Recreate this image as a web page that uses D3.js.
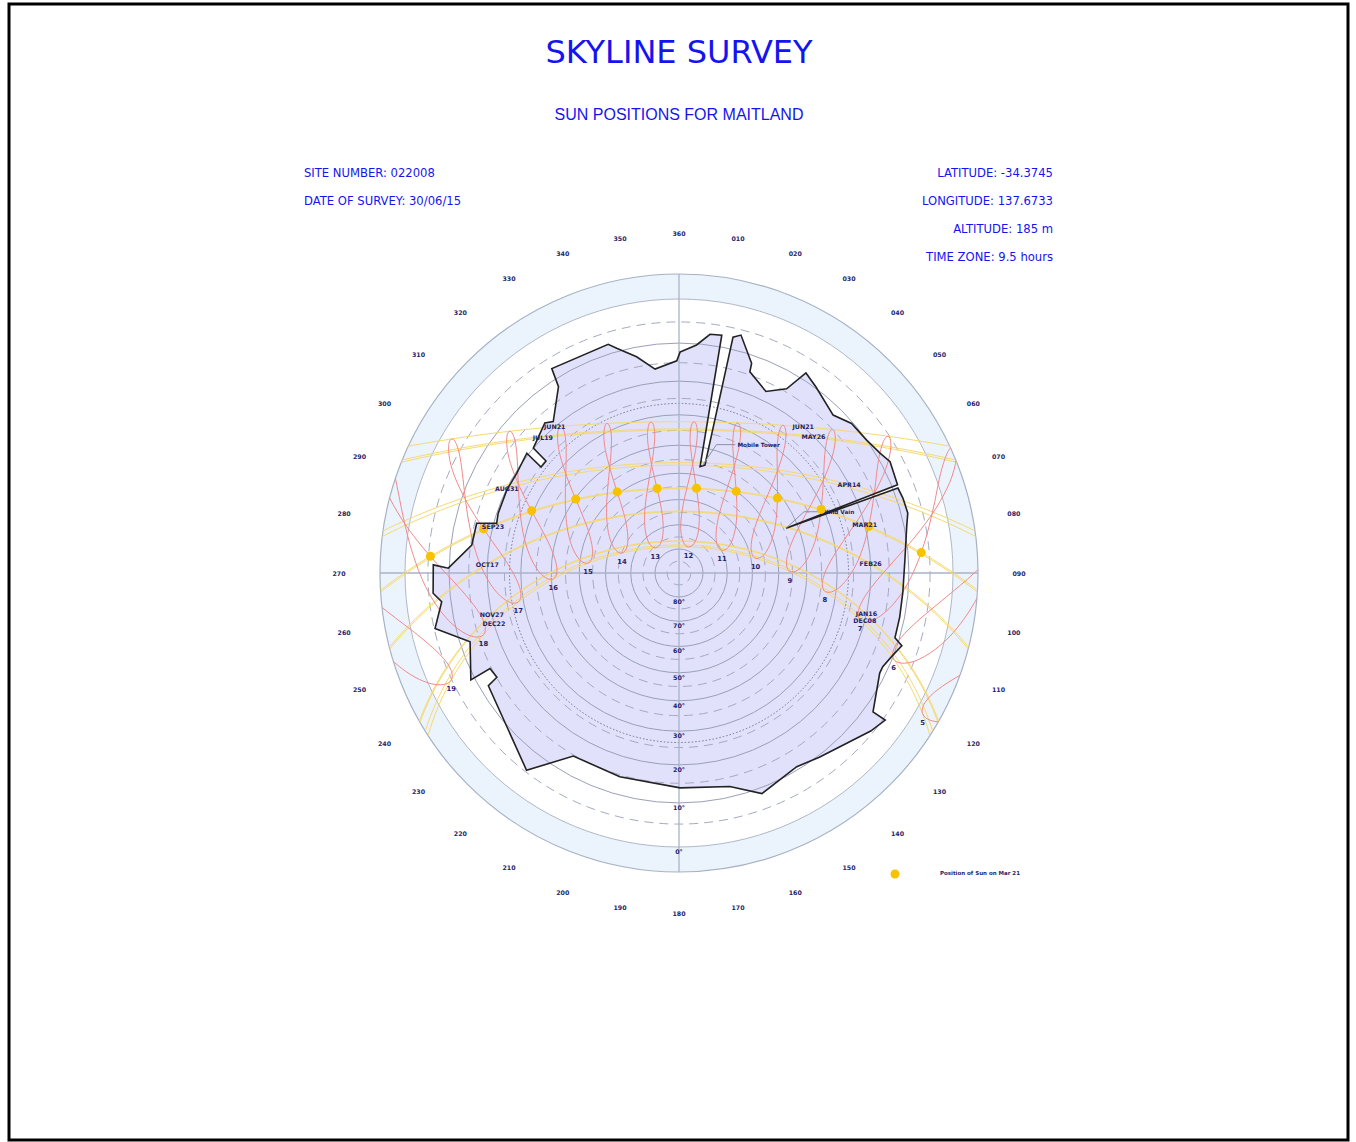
<!DOCTYPE html>
<html>
<head>
<meta charset="utf-8">
<title>Skyline Survey</title>
<script src="https://cdn.jsdelivr.net/npm/d3@7"></script>
<style>
body{margin:0;background:#fff;}
svg{display:block;font-family:"DejaVu Sans",Verdana,sans-serif;}
</style>
</head>
<body>
<svg id="chart" width="1356" height="1142"></svg>
<script>
// site details
var siteInfoLeft = ["SITE NUMBER: 022008", "DATE OF SURVEY: 30/06/15"];
var siteInfoRight = ["LATITUDE: -34.3745", "LONGITUDE: 137.6733", "ALTITUDE: 185 m", "TIME ZONE: 9.5 hours"];
var siteLat = -34.3745, siteLon = 137.6733, timeZone = 9.5;

// skyline (azimuth deg, elevation deg), clockwise from north
var skylineAz  = [0.3, 4.4, 7.4, 10.2, 11.2, 13.5, 12.9, 14.6, 19.1, 19.4, 25.6, 30.3, 32.4, 36.3, 44.3, 49.1, 54.7, 59.2, 62.2, 68.0, 67.3, 68.8, 71.5, 75.3, 78.5, 86.7, 94.9, 101.3, 106.7, 108.1, 111.0, 114.7, 116.5, 125.6, 125.5, 129.5, 142.7, 148.7, 159.4, 166.6, 179.7, 196.2, 210.0, 217.7, 239.4, 240.2, 243.2, 242.8, 251.8, 257.2, 263.1, 265.3, 271.9, 271.2, 277.7, 283.8, 285.3, 288.3, 295.7, 301.6, 308.2, 307.5, 310.1, 310.6, 318.2, 320.3, 327.1, 328.1, 342.8, 344.5, 348.9, 353.3, 359.4];
var skylineAlt = [12.2, 10.3, 7.4, 7.2, 46.8, 45.9, 7.1, 6.2, 12.0, 14.2, 17.4, 14.2, 8.3, 9.7, 12.3, 10.4, 10.0, 9.0, 7.9, 8.6, 44.1, 8.8, 8.5, 8.4, 9.4, 10.9, 11.3, 11.2, 11.1, 8.9, 10.2, 11.4, 11.4, 7.9, 4.5, 5.6, 9.6, 10.8, 8.6, 12.6, 13.8, 14.5, 14.7, 5.4, 12.1, 15.1, 14.6, 9.0, 12.5, 5.2, 7.8, 6.0, 6.2, 9.8, 15.3, 15.5, 20.8, 20.4, 20.2, 20.4, 19.5, 25.2, 25.2, 20.0, 17.4, 18.6, 12.0, 7.4, 7.7, 9.2, 12.4, 16.3, 14.5];

// named obstructions
var obstacleNames = ["Mobile Tower", "Wind Vain"];
var obstacleAz = [12.3, 67.3];
var obstacleAlt = [46.3, 44.1];

// solar table: declination (deg) and equation of time (min), 1st/11th/21st of each month
var tableDec = [-23.0, -21.8, -20.0, -17.2, -14.3, -10.8, -7.8, -4.0, 0.0, 4.4, 8.2, 11.8, 15.0, 17.8, 20.1, 22.0, 23.1, 23.44, 23.1, 22.0, 20.4, 17.9, 15.3, 12.2, 8.3, 4.6, 0.7, -3.1, -6.9, -10.6, -14.4, -17.4, -20.0, -21.8, -23.0, -23.44];
var tableEot = [-3.4, -7.8, -11.2, -13.5, -14.2, -13.8, -12.5, -10.2, -7.3, -4.0, -1.2, 1.1, 2.9, 3.7, 3.4, 2.2, 0.4, -1.7, -3.8, -5.5, -6.4, -6.3, -5.2, -3.2, -0.1, 3.2, 6.7, 10.2, 13.1, 15.3, 16.4, 16.0, 14.1, 11.0, 6.8, 2.0];

// clock hours of the analemmas
var hours = [5, 6, 7, 8, 9, 10, 11, 12, 13, 14, 15, 16, 17, 18, 19];

// day paths, labelled on the afternoon (left) and morning (right) side
var leftDates = ["JUN21", "JUL19", "AUG31", "SEP23", "OCT17", "NOV27", "DEC22"];
var leftDecs = [23.44, 20.7, 8.6, -0.2, -9.2, -21.2, -23.44];
var rightDates = ["JUN21", "MAY26", "APR14", "MAR21", "FEB26", "JAN16", "DEC08"];
var rightDecs = [23.44, 21.1, 9.5, 0.1, -8.9, -21.0, -22.7];

// sun positions on Mar 21
var markLabel = "Position of Sun on Mar 21";
var markDec = 0.1, markEot = -7.3;
var markHours = [7, 8, 9, 10, 11, 12, 13, 14, 15, 16, 17, 18];

// grid
var altSolid = [0, 10, 20, 30, 40, 50, 60, 70, 80];
var altDashed = [5, 15, 25, 35, 45, 55, 65, 75, 85];
var altDotted = [26.5];
var altLabels = [0, 10, 20, 30, 40, 50, 60, 70, 80];
var azTicks = [10, 20, 30, 40, 50, 60, 70, 80, 90, 100, 110, 120, 130, 140, 150, 160, 170, 180, 190, 200, 210, 220, 230, 240, 250, 260, 270, 280, 290, 300, 310, 320, 330, 340, 350, 360];

var W = 1356, H = 1142, cx = 679, cy = 573, R0 = 274;
var navy = "#1f1f6b", blue = "#1414f0";

var svg = d3.select("#chart");

// horizon frame: lon = 180 - azimuth, lat = elevation
var horizon = d3.geoStereographic().scale(R0).translate([cx, cy]).rotate([0, -90]).clipAngle(95);
// equatorial frame: lon = -hour angle, lat = declination
var sky = d3.geoStereographic().scale(R0).translate([cx, cy]).rotate([0, -siteLat]).clipAngle(95);
var skyPath = d3.geoPath(sky);

function hz(az, alt){ return horizon([180 - az, alt]); }
function rAlt(alt){
    var p = hz(0, alt);
    return Math.hypot(p[0] - cx, p[1] - cy);
}
function sunXY(hour, dec, eot){
    var solar = hour + (siteLon - 15 * timeZone) / 15 + eot / 60;
    var ha = 15 * (solar - 12);
    return sky([-ha, dec]);
}
var rOuter = rAlt(-5), rHorizon = rAlt(0);

// frame
svg.append("rect").attr("x", 9).attr("y", 4).attr("width", 1339).attr("height", 1136)
    .attr("fill", "none").attr("stroke", "#000").attr("stroke-width", 3);

// titles
svg.append("text").attr("x", cx).attr("y", 63).attr("text-anchor", "middle")
    .attr("fill", blue).style("font-size", "32px").text("SKYLINE SURVEY");
svg.append("text").attr("x", cx).attr("y", 120).attr("text-anchor", "middle")
    .attr("fill", blue).style("font-family", "'Liberation Sans',Arial,sans-serif").style("font-size", "16px")
    .text("SUN POSITIONS FOR MAITLAND");
svg.selectAll("text.infoL").data(siteInfoLeft).enter().append("text")
    .classed("infoL", true)
    .attr("x", 304).attr("y", function(d, i){ return 177 + i * 28; })
    .attr("fill", blue).style("font-size", "11.6px").text(function(d){ return d; });
svg.selectAll("text.infoR").data(siteInfoRight).enter().append("text")
    .classed("infoR", true)
    .attr("x", 1053).attr("y", function(d, i){ return 177 + i * 28; })
    .attr("text-anchor", "end")
    .attr("fill", blue).style("font-size", "11.6px").text(function(d){ return d; });

svg.append("defs").append("clipPath").attr("id", "dome")
    .append("circle").attr("cx", cx).attr("cy", cy).attr("r", rOuter);

var plot = svg.append("g");

// outer band (-5 to 0 deg)
plot.append("circle").attr("cx", cx).attr("cy", cy).attr("r", rOuter)
    .attr("fill", "#ebf4fd").attr("stroke", "#a6b2c4").attr("stroke-width", 1.2);
plot.append("circle").attr("cx", cx).attr("cy", cy).attr("r", rHorizon)
    .attr("fill", "#fff").attr("stroke", "#b0b8c8").attr("stroke-width", 1);

// skyline fill
var skyline = skylineAz.map(function(a, i){ return hz(a, skylineAlt[i]); });
var skyLine = d3.line().curve(d3.curveLinearClosed);
plot.append("path").attr("d", skyLine(skyline)).attr("fill", "#e1e1fb").attr("stroke", "none");

// altitude rings
plot.selectAll("circle.solid").data(altSolid.slice(1)).enter().append("circle")
    .classed("solid", true)
    .attr("cx", cx).attr("cy", cy).attr("r", rAlt)
    .attr("fill", "none").attr("stroke", "#9aa0b8").attr("stroke-width", 1);
plot.selectAll("circle.dashed").data(altDashed).enter().append("circle")
    .classed("dashed", true)
    .attr("cx", cx).attr("cy", cy).attr("r", rAlt)
    .attr("fill", "none").attr("stroke", "#a4aac0").attr("stroke-width", 1)
    .attr("stroke-dasharray", "9,6");
plot.selectAll("circle.dotted").data(altDotted).enter().append("circle")
    .classed("dotted", true)
    .attr("cx", cx).attr("cy", cy).attr("r", rAlt)
    .attr("fill", "none").attr("stroke", "#707490").attr("stroke-width", 1)
    .attr("stroke-dasharray", "1.5,2");

// cross hairs
[0, 90].forEach(function(az){
    var a = hz(az, -5), b = hz(az + 180, -5);
    plot.append("line").attr("x1", a[0]).attr("y1", a[1]).attr("x2", b[0]).attr("y2", b[1])
        .attr("stroke", "#aab2c8").attr("stroke-width", 1.3);
});

// day paths
var pathDecs = [];
leftDecs.concat(rightDecs).forEach(function(d){ if(pathDecs.indexOf(d) < 0) pathDecs.push(d); });
var circleGen = d3.geoCircle().center([0, 90]).precision(1);
plot.selectAll("path.day").data(pathDecs).enter().append("path")
    .classed("day", true)
    .attr("d", function(d){
        var ring = circleGen.radius(90 - d)().coordinates[0];
        return skyPath({type: "LineString", coordinates: ring});
    })
    .attr("fill", "none").attr("stroke", "#f6d96e").attr("stroke-width", 1);

// analemmas
var loopLine = d3.line().curve(d3.curveCatmullRomClosed);
var loops = plot.append("g").attr("clip-path", "url(#dome)");
loops.selectAll("path.loop").data(hours).enter().append("path")
    .classed("loop", true)
    .attr("d", function(h){
        return loopLine(tableDec.map(function(d, i){ return sunXY(h, d, tableEot[i]); }));
    })
    .attr("fill", "none").attr("stroke", "#f08a8a").attr("stroke-width", 1);

// skyline outline
plot.append("path").attr("d", skyLine(skyline)).attr("fill", "none")
    .attr("stroke", "#222").attr("stroke-width", 1.6).attr("stroke-linejoin", "miter");

// obstruction labels
obstacleNames.forEach(function(name, i){
    var p = hz(obstacleAz[i], obstacleAlt[i]);
    var lead = i === 0 ? [14, -21, 33] : [18, -16.5, 34];
    plot.append("polyline")
        .attr("points", [p, [p[0] + lead[0], p[1] + lead[1]], [p[0] + lead[2], p[1] + lead[1]]].join(" "))
        .attr("fill", "none").attr("stroke", "#8a90a4").attr("stroke-width", 1);
    plot.append("text").attr("x", p[0] + lead[2] + 2).attr("y", p[1] + lead[1] + 2)
        .attr("fill", navy).style("font-size", "5.7px").style("font-weight", "bold").text(name);
});

// Mar 21 sun positions
var dots = plot.append("g").attr("clip-path", "url(#dome)");
dots.selectAll("circle.sun").data(markHours).enter().append("circle")
    .classed("sun", true)
    .attr("cx", function(h){ return sunXY(h, markDec, markEot)[0]; })
    .attr("cy", function(h){ return sunXY(h, markDec, markEot)[1]; })
    .attr("r", 4.5).attr("fill", "#f7c200");

// hour labels at the summer end of each analemma
var summer = tableDec.indexOf(d3.min(tableDec));
plot.selectAll("text.hour").data(hours).enter().append("text")
    .classed("hour", true)
    .attr("x", function(h){ return sunXY(h, tableDec[summer], tableEot[summer])[0]; })
    .attr("y", function(h){ return sunXY(h, tableDec[summer], tableEot[summer])[1] + 11; })
    .attr("text-anchor", "middle")
    .attr("fill", navy).style("font-size", "6.8px").style("font-weight", "bold")
    .text(function(h){ return h; });

// date labels where each day path crosses 20 deg elevation
function crossing(dec, side){
    var f = Math.PI / 180;
    var c = (Math.sin(20 * f) - Math.sin(siteLat * f) * Math.sin(dec * f)) / (Math.cos(siteLat * f) * Math.cos(dec * f));
    var ha = Math.acos(c) / f;
    return sky([side * ha, dec]);
}
function dateLabels(names, decs, side){
    plot.selectAll(null).data(names).enter().append("text")
        .attr("x", function(d, i){ return crossing(decs[i], side)[0]; })
        .attr("y", function(d, i){ return crossing(decs[i], side)[1] + 2.5; })
        .attr("text-anchor", "middle")
        .attr("fill", navy).style("font-size", "6.3px").style("font-weight", "bold")
        .text(function(d){ return d; });
}
dateLabels(leftDates, leftDecs, -1);
dateLabels(rightDates, rightDecs, 1);

// elevation labels
plot.selectAll("text.alt").data(altLabels).enter().append("text")
    .classed("alt", true)
    .attr("x", cx).attr("y", function(a){ return cy + rAlt(a) + 7; })
    .attr("text-anchor", "middle")
    .attr("fill", navy).style("font-size", "6.3px").style("font-weight", "bold")
    .text(function(a){ return a + "°"; });

// azimuth labels
var fmt = d3.format("03d");
plot.selectAll("text.az").data(azTicks).enter().append("text")
    .classed("az", true)
    .attr("x", function(a){ return cx + 340 * Math.sin(a * Math.PI / 180); })
    .attr("y", function(a){ return cy - 340 * Math.cos(a * Math.PI / 180) + 2.5; })
    .attr("text-anchor", "middle")
    .attr("fill", navy).style("font-size", "6.3px").style("font-weight", "bold")
    .text(function(a){ return fmt(a); });

// legend
svg.append("circle").attr("cx", 895).attr("cy", 874).attr("r", 4.5).attr("fill", "#f7c200");
svg.append("text").attr("x", 940).attr("y", 874.5)
    .attr("fill", navy).style("font-size", "5.5px").style("font-weight", "bold").text(markLabel);
</script>
</body>
</html>
